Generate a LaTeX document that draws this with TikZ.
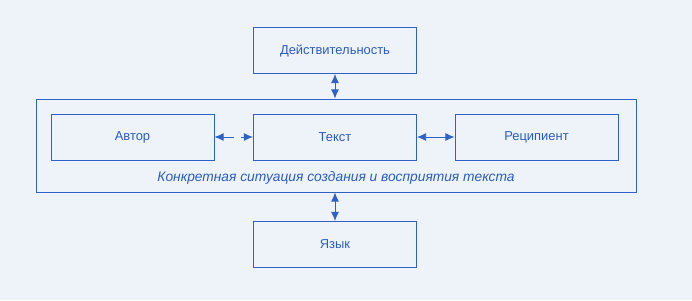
\documentclass[tikz,border=0pt]{standalone}
\usepackage{fontspec}
\setmainfont{Liberation Sans}
\usetikzlibrary{arrows.meta,positioning,calc}
\definecolor{pagebg}{HTML}{EEF3FA}
\definecolor{lineblue}{HTML}{2F62C8}
\definecolor{textblue}{HTML}{2B5CC0}
\tikzset{
  conceptbox/.style={draw=lineblue, line width=0.65pt, fill=pagebg,
                     minimum width=4.075cm, minimum height=1.15cm,
                     align=center, text=textblue, font=\fontsize{9.2}{11}\selectfont},
  framebox/.style={draw=lineblue, line width=0.65pt,
                   minimum width=15cm, minimum height=2.325cm},
  biarr/.style={{Latex[length=2.3mm,width=2mm]}-{Latex[length=2.3mm,width=2mm]},
                line width=0.65pt, color=lineblue},
  dbiarr/.style={biarr, dash pattern=on 7.5pt off 5pt}}

\begin{document}
\begin{tikzpicture}
    \fill[pagebg] (0,0) rectangle (17.3,-7.5);
    \useasboundingbox (0,0) rectangle (17.3,-7.5);
    \node[framebox] (situation) at (8.4,-3.6375) {};
    \node[conceptbox] (reality) at (8.375,-1.2625) {Действительность};
    \node[conceptbox] (author) at (3.3125,-3.425) {Автор};
    \node[conceptbox] (text) at (8.375,-3.425) {Текст};
    \node[conceptbox] (recipient) at (13.4125,-3.425) {Реципиент};
    \node[conceptbox] (language) at (8.375,-6.1125) {Язык};
    \node[text=textblue, font=\fontsize{9.8}{11}\selectfont\itshape] (sitlabel) at (8.4,-4.45)
      {Конкретная ситуация создания и восприятия текста};
    \draw[biarr] (reality.south) -- (reality.south |- situation.north);
    \draw[biarr] (language.north |- situation.south) -- (language.north);
    \draw[dbiarr] (author.east) -- (text.west);
    \draw[biarr] (text.east) -- (recipient.west);
\end{tikzpicture}
\end{document}
